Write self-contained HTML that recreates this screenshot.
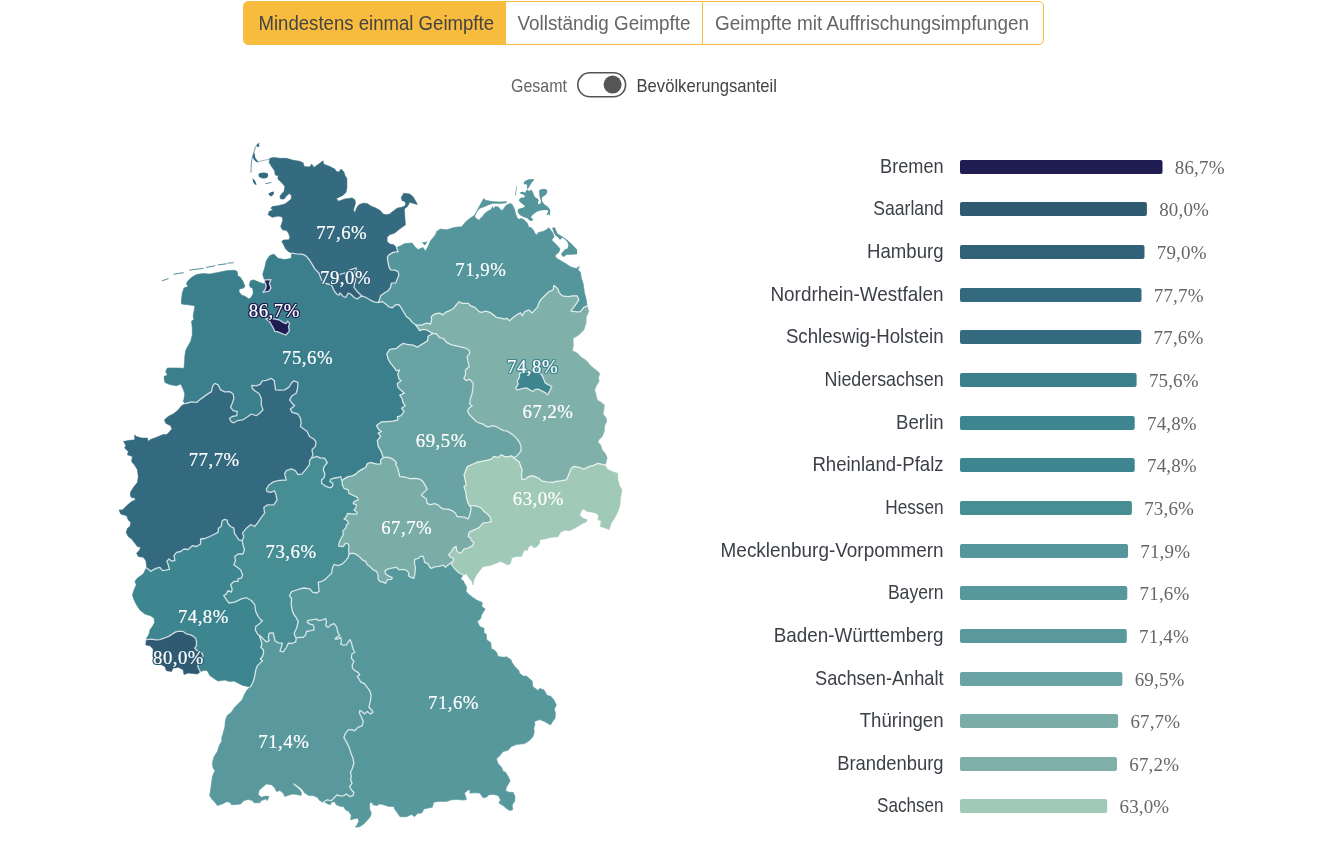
<!DOCTYPE html>
<html lang="de">
<head>
<meta charset="utf-8">
<title>Impfquote nach Bundesland</title>
<style>
html,body{margin:0;padding:0;background:#fff;}
body{width:1323px;height:850px;position:relative;overflow:hidden;font-family:"Liberation Sans",sans-serif;}
.tabs{position:absolute;left:243px;top:1px;height:44px;width:801px;box-sizing:border-box;border:1px solid #f7bb3d;border-radius:5px;background:#fff;overflow:hidden;}
.tab{position:absolute;top:-1px;height:44px;box-sizing:border-box;}
.tab.active{background:#f7bb3d;left:-1px;width:263px;}
.tab.t2{left:262px;width:197px;border-right:1px solid #f7bb3d;}
.tab.t3{left:459px;width:341px;}
svg text{font-family:"Liberation Sans",sans-serif;}
svg text.lab{font-size:20.2px;fill:#3b3f46;}
svg text.val{font-family:"Liberation Serif",serif;font-size:19px;letter-spacing:0.15px;fill:#666;}
svg text.tab{font-size:19.6px;fill:#666;}
svg text.tab.on{fill:#444;}
svg text.tg{font-size:17.8px;fill:#666;}
svg text.tg.on{fill:#444;}
.ml{position:absolute;width:80px;height:26px;line-height:26px;text-align:center;font-family:"Liberation Serif",serif;font-size:18.8px;letter-spacing:0.5px;color:#fff;-webkit-text-stroke:0.2px #fff;white-space:nowrap;}
#ov{position:absolute;left:0;top:0;}
</style>
</head>
<body>
<div class="tabs"><div class="tab active"></div><div class="tab t2"></div><div class="tab t3"></div></div>
<svg id="ov" width="1323" height="850" viewBox="0 0 1323 850">
<text class="tab on" x="258.5" y="30" textLength="235.5" lengthAdjust="spacingAndGlyphs">Mindestens einmal Geimpfte</text>
<text class="tab" x="517.5" y="30" textLength="173" lengthAdjust="spacingAndGlyphs">Vollständig Geimpfte</text>
<text class="tab" x="715" y="30" textLength="314" lengthAdjust="spacingAndGlyphs">Geimpfte mit Auffrischungsimpfungen</text>
<text class="tg" x="511" y="91.5" textLength="56" lengthAdjust="spacingAndGlyphs">Gesamt</text>
<rect x="577.8" y="72.8" width="47.8" height="24" rx="12" fill="#fff" stroke="#555" stroke-width="1.6"/>
<circle cx="612.6" cy="84.6" r="9" fill="#555"/>
<text class="tg on" x="636.5" y="91.5" textLength="140.5" lengthAdjust="spacingAndGlyphs">Bevölkerungsanteil</text>
<g id="map">
<path d="M291.5 253.1L291.3 258.3L284.6 259.6L278.0 258.3L273.8 254.1L269.6 255.8L266.3 260.8L264.6 268.2L262.7 274.1L263.8 278.2L265.0 280.7L264.3 284.0L259.7 282.4L253.8 279.9L250.5 280.7L249.3 284.9L250.5 287.4L252.7 287.9L253.3 293.2L251.3 297.3L248.9 299.0L245.5 296.5L241.4 294.9L238.9 291.5L239.4 289.0L243.0 288.2L245.0 286.5L243.0 281.5L240.5 277.4L237.7 275.7L237.2 271.6L234.7 270.2L226.4 270.7L218.1 272.4L209.8 274.1L203.1 273.6L196.5 274.6L191.5 277.4L187.3 281.5L186.5 284.0L188.2 286.5L184.0 287.9L182.3 293.2L181.5 299.8L181.5 304.0L188.2 304.8L194.8 305.7L194.0 311.5L193.1 316.5L194.0 319.8L191.5 321.1L192.3 328.1L192.3 334.8L190.7 341.4L187.3 347.2L185.7 350.6L184.8 356.4L184.5 363.0L184.0 368.3L176.5 368.0L167.4 368.0L165.7 371.6L167.4 374.9L164.0 376.6L164.9 382.4L169.9 384.6L176.5 385.8L180.7 384.1L183.2 389.1L184.8 394.1L184.0 399.1L183.2 401.5L185.7 403.5L191.5 401.9L196.5 402.4L200.6 399.1L206.4 394.9L211.4 391.6L212.8 385.8L214.8 383.3L218.1 384.9L220.6 389.9L224.7 391.9L229.7 391.6L233.1 394.1L233.9 398.2L232.2 403.2L230.6 407.4L233.1 410.7L237.2 411.5L236.7 415.7L232.2 416.5L229.4 418.5L231.4 421.8L233.9 422.8L237.2 420.7L243.0 419.8L248.0 416.5L251.3 414.0L256.3 415.7L259.7 413.2L263.0 409.9L261.3 404.9L261.3 398.2L258.8 393.2L254.7 390.7L252.2 388.2L251.7 385.3L256.3 385.8L260.5 384.1L262.2 380.8L266.3 380.3L271.3 378.3L274.3 380.8L275.0 385.8L275.5 389.9L279.6 390.2L284.6 389.9L288.8 387.4L291.3 383.3L293.7 380.8L297.9 382.4L297.6 388.2L296.2 393.2L292.1 395.7L289.6 399.9L292.1 403.2L294.6 405.7L290.4 409.0L292.1 412.4L297.9 414.0L300.4 418.2L301.2 423.2L300.4 426.5L303.7 429.0L307.1 431.5L309.5 436.5L313.7 439.0L315.9 441.5L315.4 446.4L312.0 449.8L312.9 454.8L311.5 458.1L317.0 456.4L320.4 458.1L324.5 458.1L327.0 462.2L327.4 462.5L324.1 466.7L323.3 470.0L324.9 474.1L324.1 477.5L321.6 480.0L321.6 483.3L324.9 485.8L329.9 487.9L332.4 486.6L332.9 483.3L329.9 481.6L330.7 479.1L334.9 478.0L338.2 477.5L340.7 476.6L341.9 480.8L344.9 478.3L348.2 476.6L352.4 475.8L355.7 474.1L358.2 471.6L362.3 469.1L365.7 467.5L367.3 463.7L370.7 462.5L374.0 463.3L377.3 464.2L380.7 463.9L380.7 459.7L383.2 457.7L382.3 454.7L380.7 450.6L378.2 446.4L377.3 440.6L380.7 436.4L378.2 433.1L381.5 431.5L379.0 429.8L376.5 425.6L381.5 421.8L388.2 421.5L393.1 421.1L398.1 419.8L397.3 416.8L401.1 415.7L404.0 411.5L401.5 408.2L405.1 405.7L402.8 402.4L402.3 399.0L399.8 395.2L404.5 393.2L401.5 390.7L398.1 387.4L397.3 383.6L401.1 380.7L399.0 379.1L397.8 374.1L399.5 369.9L396.5 370.8L394.0 367.4L390.7 363.3L388.2 359.1L386.8 354.1L387.3 353.1L389.8 349.4L396.4 348.4L399.8 345.6L403.1 343.4L407.2 344.4L413.1 345.1L417.2 347.2L419.7 345.6L423.9 343.1L427.7 340.6L428.0 336.4L430.5 334.8L433.3 333.4L430.5 332.3L426.4 329.8L423.0 329.4L419.7 330.6L418.0 328.1L415.5 324.8L412.2 322.3L409.7 319.0L406.4 316.5L403.9 312.3L401.4 308.2L398.9 304.5L395.6 304.8L392.3 307.8L388.9 306.8L385.6 304.0L382.3 301.5L378.1 302.7L374.0 301.8L369.8 299.8L365.7 297.3L362.3 296.2L360.7 296.5L357.3 299.0L354.0 297.3L350.7 294.0L348.2 293.2L345.7 297.3L343.2 296.5L339.9 292.9L339.1 295.2L336.6 294.0L334.1 290.7L331.6 284.9L329.9 284.5L325.8 283.5L322.4 281.5L320.8 278.2L319.1 273.2L318.1 272.2L314.8 268.9L312.3 264.7L309.8 260.5L306.5 256.4L303.2 254.4L296.5 253.9L291.5 253.1Z" fill="#3a7f8b" stroke="#3a7f8b" stroke-width="0.6" stroke-linejoin="round"/>
<path d="M269.9 158.3L273.6 157.4L279.9 158.3L286.5 158.3L293.2 160.3L299.8 161.3L303.2 162.9L304.2 166.6L309.5 166.9L311.8 164.1L313.8 167.4L318.1 164.6L323.1 160.8L323.5 164.1L329.8 166.6L334.8 169.1L336.4 171.6L338.9 171.9L341.1 169.1L343.9 171.9L345.1 175.7L346.9 178.6L346.9 188.2L345.9 192.4L343.1 195.2L336.4 198.5L338.4 201.2L344.7 199.0L352.2 197.9L355.0 199.9L355.5 203.2L353.9 208.2L353.6 210.7L355.0 212.7L356.4 208.2L358.9 204.8L363.0 203.2L367.2 203.5L371.3 206.2L376.3 208.2L380.5 210.7L383.0 214.0L386.3 214.8L389.6 214.0L393.8 210.7L397.1 208.2L401.3 207.3L404.6 206.2L405.9 204.0L404.6 201.2L402.1 200.7L401.3 197.4L403.8 193.2L409.6 194.0L412.9 196.5L415.4 200.7L417.4 204.5L412.9 203.2L409.6 202.3L407.9 205.7L406.6 207.3L404.3 209.0L404.9 218.1L405.4 224.8L399.6 229.0L394.6 233.1L389.6 234.8L387.1 237.3L387.1 241.4L389.6 243.9L393.8 244.8L396.4 247.6L398.1 251.6L393.1 252.4L388.9 254.9L387.3 257.4L388.1 262.4L388.9 266.6L390.6 269.9L394.8 270.2L398.1 271.6L398.9 274.9L397.3 279.1L395.6 282.9L391.4 283.2L390.6 287.4L388.1 290.7L384.0 293.2L380.6 295.7L379.8 299.0L378.1 302.7L374.0 301.8L369.8 299.8L365.7 297.3L362.3 296.2L359.8 294.0L356.5 290.7L354.0 287.4L354.5 284.0L355.7 279.9L354.9 276.6L354.0 272.4L356.5 269.9L356.2 267.9L352.4 269.1L348.2 270.7L344.9 273.2L340.7 274.1L338.2 276.6L334.9 278.2L332.4 280.7L331.6 284.9L329.9 284.5L325.8 283.5L322.4 281.5L320.8 278.2L319.1 273.2L318.1 272.2L314.8 268.9L312.3 264.7L309.8 260.5L306.5 256.4L303.2 254.4L296.5 253.9L291.5 253.1L288.2 251.4L285.7 248.9L284.0 245.6L281.9 241.4L283.2 240.1L289.0 239.8L289.9 237.3L288.5 233.1L286.5 230.6L282.4 229.8L280.7 226.5L281.9 223.1L282.9 219.8L281.9 216.8L278.2 216.1L272.4 217.3L268.2 214.8L269.1 211.5L273.2 209.8L270.7 208.2L272.4 206.5L278.2 205.7L284.9 204.0L288.2 201.5L291.2 199.0L291.5 195.7L289.5 193.5L287.4 194.9L284.0 199.0L280.7 199.0L279.9 196.5L281.5 194.0L284.0 191.5L284.9 186.5L281.5 182.4L277.9 179.1L278.2 175.7L275.2 174.9L274.6 170.8L271.6 166.6L269.1 162.4L269.9 158.3Z" fill="#356b80" stroke="#356b80" stroke-width="0.6" stroke-linejoin="round"/>
<path d="M254.1 152.4L255.1 155.2L255.2 157.6L256.5 159.5L258.4 161.4L257.4 162.3L255.5 161.2L254.1 159.7L253.2 158.5L252.7 157.1L253.4 154.3ZM257.1 144.6L258.8 143.5L259.4 146.1L258.1 147.2L256.9 146.3ZM258.3 174.6L259.9 172.9L264.1 172.4L267.9 173.6L268.2 176.2L266.3 178.2L262.4 178.6L259.1 176.9ZM252.4 178.6L254.6 179.9L255.8 182.4L256.6 184.9L254.9 184.6L253.3 182.4ZM268.6 193.2L271.6 191.9L274.1 191.5L273.6 194.5L271.2 196.5L269.1 195.2ZM265.3 183.6L271.2 182.1L271.2 182.7L265.4 184.2Z" fill="#356b80"/>
<path d="M396.4 247.6L400.6 245.8L404.7 243.6L412.2 243.0L414.7 246.6L418.0 249.6L423.0 247.5L425.5 251.3L428.0 246.6L430.5 240.8L434.7 235.8L437.2 231.7L435.8 232.3L440.0 229.0L446.6 229.8L454.9 227.3L461.6 226.8L465.7 221.8L470.0 218.2L474.2 215.5L477.4 210.2L480.6 203.9L483.8 198.4L485.4 200.2L492.2 201.6L499.7 202.0L506.5 201.6L506.2 202.8L499.7 203.5L494.4 203.2L491.2 203.7L488.0 205.0L484.8 206.5L480.6 207.9L478.5 209.4L476.9 211.8L475.3 214.5L474.8 216.8L476.4 218.7L479.5 220.3L480.6 218.2L482.7 216.4L483.8 214.5L485.9 212.4L488.5 210.8L491.2 209.4L492.5 206.5L493.5 208.7L495.4 206.5L498.6 207.1L500.7 210.0L502.8 210.2L504.4 207.6L506.5 205.0L510.2 203.4L512.2 204.4L514.5 209.2L515.5 213.4L517.1 217.7L518.7 219.2L521.9 218.5L525.1 220.8L527.2 223.0L528.8 227.2L531.4 227.7L533.5 230.4L535.1 233.5L536.7 235.1L538.3 232.5L543.1 231.4L546.3 229.8L548.9 227.7L551.0 230.4L553.1 233.5L554.2 236.7L551.6 239.9L554.7 243.1L557.9 246.3L560.0 248.9L559.0 252.1L555.3 255.3L555.8 257.4L557.9 259.0L564.7 263.1L571.3 267.2L576.3 268.4L579.3 266.4L578.0 269.7L580.5 272.2L581.3 278.0L583.0 283.0L584.6 293.3L586.3 299.9L587.1 305.8L583.8 307.4L580.5 311.6L577.2 311.9L571.0 311.2L572.2 309.1L575.5 304.9L578.8 299.9L577.2 295.8L573.0 295.8L568.0 296.6L562.2 295.8L558.9 292.4L558.0 289.1L553.9 285.3L553.1 290.0L548.9 291.6L544.7 295.8L540.6 299.9L538.9 303.3L537.3 307.4L534.8 309.9L532.3 312.9L528.9 309.9L524.8 311.6L522.3 315.7L520.6 312.9L516.5 314.9L513.1 317.4L509.5 320.7L506.8 318.2L504.8 319.1L500.7 318.2L496.5 317.4L493.2 314.6L489.9 312.4L485.7 311.2L481.5 312.4L479.1 311.6L474.9 307.4L470.7 305.8L468.2 303.3L462.4 303.3L458.8 301.8L456.3 304.8L453.8 308.2L449.6 310.7L445.5 312.3L443.0 314.8L439.7 313.1L434.7 314.0L431.3 316.5L431.7 319.8L430.5 324.0L426.4 323.1L421.4 325.1L415.5 324.8L412.2 322.3L409.7 319.0L406.4 316.5L403.9 312.3L401.4 308.2L398.9 304.5L395.6 304.8L392.3 307.8L388.9 306.8L385.6 304.0L382.3 301.5L378.1 302.7L379.8 299.0L380.6 295.7L384.0 293.2L388.1 290.7L390.6 287.4L391.4 283.2L395.6 282.9L397.3 279.1L398.9 274.9L398.1 271.6L394.8 270.2L390.6 269.9L388.9 266.6L388.1 262.4L387.3 257.4L388.9 254.9L393.1 252.4L398.1 251.6L396.4 247.6Z" fill="#54969b" stroke="#54969b" stroke-width="0.6" stroke-linejoin="round"/>
<path d="M519.8 192.2L523.0 191.7L525.1 192.8L526.1 190.7L527.7 189.6L529.3 191.2L530.9 189.6L532.5 191.2L533.5 193.8L534.6 196.5L536.2 198.1L537.8 198.6L538.8 200.7L537.8 202.3L538.3 203.9L540.4 203.7L541.0 201.2L540.1 198.6L539.4 195.4L539.1 191.2L539.9 189.6L543.1 188.9L545.7 188.9L547.3 190.7L547.1 192.8L545.7 194.9L543.1 196.5L541.8 198.1L542.0 200.7L543.1 202.8L545.2 205.0L547.8 206.5L550.0 209.7L550.3 212.4L549.4 216.6L548.9 214.0L547.8 215.0L546.3 214.5L547.8 212.4L548.4 210.8L546.3 210.0L542.0 210.2L537.8 211.3L535.1 212.9L532.5 215.0L530.9 217.1L532.5 218.7L533.3 220.3L530.4 221.1L528.8 219.8L527.2 218.2L525.1 217.4L522.4 216.6L519.8 215.0L517.9 212.4L517.7 210.2L518.7 208.7L521.9 208.1L524.0 207.3L524.9 206.0L523.0 204.4L520.8 202.8L518.9 200.7L519.6 198.6L521.9 197.3L523.5 197.7L525.1 195.9L523.0 194.6L520.8 193.8ZM523.5 182.7L525.6 180.6L529.3 179.3L533.5 179.0L534.1 180.1L532.0 182.2L530.4 184.8L528.8 187.5L527.7 188.9L526.7 188.0L527.2 185.9L526.1 183.8L524.5 184.8ZM516.4 186.4L517.0 186.6L515.8 195.4L515.1 195.2ZM552.1 227.7L554.7 227.2L556.3 230.4L557.4 233.5L561.1 235.7L564.3 237.8L567.4 239.9L571.7 244.1L577.0 249.4L577.2 254.2L571.7 254.7L566.4 254.7L564.3 256.8L562.1 256.3L561.1 253.7L563.2 251.6L564.8 249.4L567.4 248.4L568.5 245.7L567.4 242.0L564.3 238.8L562.1 237.8L560.0 239.9L558.4 237.8L555.8 235.7L553.7 232.5ZM421.7 242.6L427.5 241.5L425.0 245.6Z" fill="#54969b"/>
<path d="M415.5 324.8L421.4 325.1L426.4 323.1L430.5 324.0L431.7 319.8L431.3 316.5L434.7 314.0L439.7 313.1L443.0 314.8L445.5 312.3L449.6 310.7L453.8 308.2L456.3 304.8L458.8 301.8L462.4 303.3L468.2 303.3L470.7 305.8L474.9 307.4L479.1 311.6L481.5 312.4L485.7 311.2L489.9 312.4L493.2 314.6L496.5 317.4L500.7 318.2L504.8 319.1L506.8 318.2L509.5 320.7L513.1 317.4L516.5 314.9L520.6 312.9L522.3 315.7L524.8 311.6L528.9 309.9L532.3 312.9L534.8 309.9L537.3 307.4L538.9 303.3L540.6 299.9L544.7 295.8L548.9 291.6L553.1 290.0L553.9 285.3L558.0 289.1L558.9 292.4L562.2 295.8L568.0 296.6L573.0 295.8L577.2 295.8L578.8 299.9L575.5 304.9L572.2 309.1L571.0 311.2L577.2 311.9L580.5 311.6L583.8 307.4L587.1 305.8L588.8 311.6L586.3 316.6L586.0 323.2L583.8 329.9L578.8 334.9L573.0 338.5L573.3 345.7L572.2 350.7L577.2 353.1L581.3 357.3L586.3 360.6L590.5 365.6L594.6 368.9L598.8 372.3L599.7 374.1L598.3 378.3L599.3 380.8L596.3 385.8L594.7 389.9L596.0 394.9L597.2 399.9L601.3 402.4L604.3 404.9L603.8 409.9L603.0 414.0L606.3 418.2L606.6 421.5L604.6 425.7L604.3 431.5L602.2 436.5L598.8 439.8L598.0 442.3L600.5 444.8L602.2 449.8L605.5 453.9L607.1 458.1L606.3 461.7L604.9 465.0L601.2 464.1L597.9 463.3L593.7 465.3L588.8 466.6L583.8 469.1L579.6 467.5L573.8 466.3L571.3 468.3L569.6 472.4L568.0 476.6L566.3 479.9L560.5 480.8L556.3 481.3L553.0 482.4L546.4 481.9L541.4 480.8L538.9 478.3L533.1 475.8L528.9 476.3L525.6 479.1L522.2 479.6L521.4 474.9L522.2 470.0L520.6 465.8L518.9 461.6L516.4 460.0L513.4 457.5L516.2 456.4L518.7 453.9L521.2 450.6L520.9 446.4L519.5 442.3L517.0 438.9L513.7 435.6L510.4 433.1L507.1 431.1L503.7 430.6L500.4 429.0L496.2 426.5L492.1 425.6L489.6 426.8L486.3 426.5L482.9 424.0L479.6 423.1L476.3 421.5L473.0 418.2L469.6 414.8L467.6 411.5L468.8 408.2L472.1 405.7L469.6 404.0L470.5 398.2L472.1 393.2L473.0 388.2L473.0 383.2L469.6 379.1L466.3 380.7L463.8 378.2L465.5 374.9L465.5 369.9L469.3 366.6L468.0 361.6L467.1 356.6L469.9 353.1L469.1 350.2L465.8 348.2L462.4 347.3L457.4 346.2L451.6 344.8L446.6 342.3L443.3 338.5L439.1 337.3L436.7 334.0L433.3 333.4L430.5 332.3L426.4 329.8L423.0 329.4L419.7 330.6L418.0 328.1L415.5 324.8Z" fill="#7fb0aa" stroke="#7fb0aa" stroke-width="0.6" stroke-linejoin="round"/>
<path d="M433.3 333.4L430.5 334.8L428.0 336.4L427.7 340.6L423.9 343.1L419.7 345.6L417.2 347.2L413.1 345.1L407.2 344.4L403.1 343.4L399.8 345.6L396.4 348.4L389.8 349.4L387.3 353.1L386.8 354.1L388.2 359.1L390.7 363.3L394.0 367.4L396.5 370.8L399.5 369.9L397.8 374.1L399.0 379.1L401.1 380.7L397.3 383.6L398.1 387.4L401.5 390.7L404.5 393.2L399.8 395.2L402.3 399.0L402.8 402.4L405.1 405.7L401.5 408.2L404.0 411.5L401.1 415.7L397.3 416.8L398.1 419.8L393.1 421.1L388.2 421.5L381.5 421.8L376.5 425.6L379.0 429.8L381.5 431.5L378.2 433.1L380.7 436.4L377.3 440.6L378.2 446.4L380.7 450.6L382.3 454.7L383.2 457.7L387.3 457.2L391.5 458.4L394.8 460.6L396.5 463.1L395.6 464.2L397.8 468.3L398.9 473.3L399.8 476.6L404.7 477.0L409.7 478.6L414.7 478.3L419.7 479.1L423.0 481.6L425.5 485.8L427.2 489.1L424.7 491.6L421.4 494.9L423.0 496.6L426.4 499.1L427.2 503.6L430.5 504.6L434.7 503.6L438.0 504.9L440.5 507.4L443.8 509.1L448.0 509.1L452.1 510.7L455.5 513.2L457.1 516.5L461.3 516.9L465.4 517.4L467.9 519.0L469.6 515.7L470.4 511.5L471.3 508.2L469.5 505.7L469.0 504.9L467.4 501.5L466.5 497.4L465.7 491.6L464.0 486.6L466.2 484.9L465.2 479.9L464.0 474.9L465.7 470.8L467.4 466.6L470.7 465.0L476.5 462.5L481.5 461.3L486.5 460.3L491.5 459.1L494.0 456.3L498.1 457.5L501.5 454.7L504.8 456.7L508.1 457.0L511.4 455.8L513.4 457.5L516.2 456.4L518.7 453.9L521.2 450.6L520.9 446.4L519.5 442.3L517.0 438.9L513.7 435.6L510.4 433.1L507.1 431.1L503.7 430.6L500.4 429.0L496.2 426.5L492.1 425.6L489.6 426.8L486.3 426.5L482.9 424.0L479.6 423.1L476.3 421.5L473.0 418.2L469.6 414.8L467.6 411.5L468.8 408.2L472.1 405.7L469.6 404.0L470.5 398.2L472.1 393.2L473.0 388.2L473.0 383.2L469.6 379.1L466.3 380.7L463.8 378.2L465.5 374.9L465.5 369.9L469.3 366.6L468.0 361.6L467.1 356.6L469.9 353.1L469.1 350.2L465.8 348.2L462.4 347.3L457.4 346.2L451.6 344.8L446.6 342.3L443.3 338.5L439.1 337.3L436.7 334.0L433.3 333.4Z" fill="#6aa3a3" stroke="#6aa3a3" stroke-width="0.6" stroke-linejoin="round"/>
<path d="M513.4 457.5L511.4 455.8L508.1 457.0L504.8 456.7L501.5 454.7L498.1 457.5L494.0 456.3L491.5 459.1L486.5 460.3L481.5 461.3L476.5 462.5L470.7 465.0L467.4 466.6L465.7 470.8L464.0 474.9L465.2 479.9L466.2 484.9L464.0 486.6L465.7 491.6L466.5 497.4L467.4 501.5L469.0 504.9L469.5 505.7L473.2 505.7L478.2 506.5L481.5 508.2L484.0 511.5L487.3 514.0L489.8 516.5L491.5 521.5L488.2 522.3L483.2 522.8L480.7 525.7L478.2 528.2L474.0 529.8L469.0 532.3L468.2 536.5L470.7 538.1L471.5 540.6L474.0 542.3L472.4 545.6L468.2 548.1L464.0 548.9L462.4 551.8L459.1 553.1L456.6 550.6L456.2 546.4L453.2 548.1L451.6 551.4L448.6 554.8L450.7 557.3L453.6 558.1L453.2 561.4L450.7 563.1L454.1 568.1L458.2 572.2L462.9 575.0L466.5 573.9L469.0 578.0L471.9 581.4L472.9 585.0L474.0 579.7L476.5 574.7L479.8 570.6L483.2 566.4L489.8 565.6L496.5 563.1L500.6 561.4L504.8 563.4L508.1 565.1L510.6 563.1L511.8 557.8L516.4 556.4L521.4 556.4L523.1 552.8L524.7 549.8L527.2 550.6L528.4 547.3L531.4 545.1L533.9 547.8L537.2 546.4L539.7 543.1L539.7 539.8L544.7 539.0L551.3 537.3L558.0 536.8L560.5 532.3L564.6 530.2L569.6 530.7L574.6 528.2L578.8 525.7L582.9 523.2L586.6 521.8L587.1 519.8L582.9 518.2L579.6 515.2L581.3 510.7L583.8 509.0L587.1 511.5L591.3 511.9L596.2 513.2L598.7 515.7L597.9 519.8L601.2 520.7L600.4 526.5L604.6 527.8L609.2 529.5L611.2 523.2L614.5 518.2L617.9 511.5L619.9 504.9L620.4 498.2L622.0 489.9L619.5 485.8L617.9 479.9L617.5 473.3L612.0 471.6L607.1 469.1L604.9 465.0L601.2 464.1L597.9 463.3L593.7 465.3L588.8 466.6L583.8 469.1L579.6 467.5L573.8 466.3L571.3 468.3L569.6 472.4L568.0 476.6L566.3 479.9L560.5 480.8L556.3 481.3L553.0 482.4L546.4 481.9L541.4 480.8L538.9 478.3L533.1 475.8L528.9 476.3L525.6 479.1L522.2 479.6L521.4 474.9L522.2 470.0L520.6 465.8L518.9 461.6L516.4 460.0L513.4 457.5Z" fill="#a0c9b7" stroke="#a0c9b7" stroke-width="0.6" stroke-linejoin="round"/>
<path d="M383.2 457.7L387.3 457.2L391.5 458.4L394.8 460.6L396.5 463.1L395.6 464.2L397.8 468.3L398.9 473.3L399.8 476.6L404.7 477.0L409.7 478.6L414.7 478.3L419.7 479.1L423.0 481.6L425.5 485.8L427.2 489.1L424.7 491.6L421.4 494.9L423.0 496.6L426.4 499.1L427.2 503.6L430.5 504.6L434.7 503.6L438.0 504.9L440.5 507.4L443.8 509.1L448.0 509.1L452.1 510.7L455.5 513.2L457.1 516.5L461.3 516.9L465.4 517.4L467.9 519.0L469.6 515.7L470.4 511.5L471.3 508.2L469.5 505.7L473.2 505.7L478.2 506.5L481.5 508.2L484.0 511.5L487.3 514.0L489.8 516.5L491.5 521.5L488.2 522.3L483.2 522.8L480.7 525.7L478.2 528.2L474.0 529.8L469.0 532.3L468.2 536.5L470.7 538.1L471.5 540.6L474.0 542.3L472.4 545.6L468.2 548.1L464.0 548.9L462.4 551.8L459.1 553.1L456.6 550.6L456.2 546.4L453.2 548.1L451.6 551.4L448.6 554.8L450.7 557.3L453.6 558.1L453.2 561.4L450.7 563.1L449.6 563.9L447.1 565.6L445.5 567.3L443.0 565.1L438.8 566.4L434.7 566.8L431.3 568.4L429.7 567.3L428.0 563.9L424.7 562.3L423.9 558.9L423.0 556.1L420.5 556.4L418.9 558.1L414.7 559.4L414.4 563.1L415.5 568.1L414.7 574.7L413.9 578.4L410.6 577.2L408.4 575.6L408.9 573.1L406.4 570.1L403.1 569.4L398.9 569.8L396.4 567.3L393.1 567.8L388.1 568.9L384.8 571.1L385.6 573.9L388.1 575.6L392.3 577.7L391.4 579.4L387.3 579.7L385.6 583.4L383.1 582.2L379.8 581.4L378.1 578.9L378.1 574.7L376.5 571.4L373.1 569.8L369.8 566.4L367.3 564.8L365.7 561.4L362.3 559.8L359.0 556.4L355.7 554.0L352.4 553.1L349.0 554.0L348.5 550.6L349.0 546.5L348.2 544.0L345.7 543.1L343.2 546.5L338.6 546.1L339.1 543.1L340.7 539.0L343.2 534.8L342.9 530.7L345.7 528.2L346.5 524.9L348.5 523.2L347.4 520.7L344.0 519.0L346.5 516.5L347.4 513.5L352.4 514.0L356.5 514.0L357.3 512.4L354.0 509.9L355.7 508.2L356.5 504.9L353.2 503.6L354.0 501.6L358.2 499.9L357.3 497.4L353.2 495.3L349.0 493.3L348.2 489.9L344.0 488.3L342.4 484.9L341.9 480.8L344.9 478.3L348.2 476.6L352.4 475.8L355.7 474.1L358.2 471.6L362.3 469.1L365.7 467.5L367.3 463.7L370.7 462.5L374.0 463.3L377.3 464.2L380.7 463.9L380.7 459.7L383.2 457.7Z" fill="#7aada8" stroke="#7aada8" stroke-width="0.6" stroke-linejoin="round"/>
<path d="M311.5 458.1L317.0 456.4L320.4 458.1L324.5 458.1L327.0 462.2L327.4 462.5L324.1 466.7L323.3 470.0L324.9 474.1L324.1 477.5L321.6 480.0L321.6 483.3L324.9 485.8L329.9 487.9L332.4 486.6L332.9 483.3L329.9 481.6L330.7 479.1L334.9 478.0L338.2 477.5L340.7 476.6L341.9 480.8L342.4 484.9L344.0 488.3L348.2 489.9L349.0 493.3L353.2 495.3L357.3 497.4L358.2 499.9L354.0 501.6L353.2 503.6L356.5 504.9L355.7 508.2L354.0 509.9L357.3 512.4L356.5 514.0L352.4 514.0L347.4 513.5L346.5 516.5L344.0 519.0L347.4 520.7L348.5 523.2L346.5 524.9L345.7 528.2L342.9 530.7L343.2 534.8L340.7 539.0L339.1 543.1L338.6 546.1L343.2 546.5L345.7 543.1L348.2 544.0L349.0 546.5L348.5 550.6L349.0 554.0L348.2 557.3L345.7 560.6L342.4 563.9L338.2 565.6L334.1 564.4L332.4 568.1L331.6 573.1L328.2 576.4L324.9 579.7L321.6 581.4L318.3 582.2L318.6 586.4L319.1 591.4L316.6 593.0L312.4 592.2L310.0 588.9L304.1 588.0L300.0 588.9L295.0 590.5L291.6 591.6L289.4 595.8L291.6 598.3L291.2 604.9L292.4 610.8L294.1 614.9L296.6 618.2L298.2 621.6L297.4 624.9L296.6 628.2L294.1 633.2L294.9 635.7L296.2 638.2L295.7 641.9L291.6 643.5L288.2 643.2L286.9 646.5L283.3 651.8L279.9 651.2L281.6 646.5L282.4 643.2L278.3 642.9L274.9 640.7L274.1 636.5L273.3 632.9L269.1 633.2L268.3 637.4L269.1 640.7L266.6 641.9L263.3 639.0L260.0 635.7L259.1 635.2L257.5 634.0L255.3 629.9L255.8 626.6L259.1 624.1L262.5 620.7L260.8 619.9L258.3 616.6L255.8 611.6L255.0 606.6L254.7 604.7L251.3 600.5L246.4 597.7L241.4 598.9L234.7 602.2L228.9 603.0L226.4 599.7L223.6 595.5L226.4 593.9L228.1 590.6L231.4 592.2L232.2 588.9L230.6 584.7L233.9 581.4L238.0 581.4L238.0 578.9L241.4 578.1L242.7 574.8L240.5 569.8L237.2 567.3L233.9 564.8L235.5 560.6L234.7 556.5L238.0 554.0L243.0 554.0L244.4 549.8L243.0 544.8L242.2 540.7L243.9 536.5L242.5 533.2L246.4 528.2L251.0 524.5L254.7 526.5L258.0 522.4L261.3 517.4L264.6 513.2L263.8 507.4L267.1 504.9L273.8 504.9L277.1 499.9L276.0 494.9L274.6 490.8L270.5 492.4L267.1 491.6L266.3 489.1L268.8 485.0L273.8 481.6L279.6 480.3L286.3 480.0L284.6 473.9L286.3 470.6L291.3 468.9L295.4 470.6L297.9 474.7L302.1 473.9L306.2 468.9L309.5 464.7L309.5 460.6L311.5 458.1Z" fill="#468d94" stroke="#468d94" stroke-width="0.6" stroke-linejoin="round"/>
<path d="M185.7 403.5L191.5 401.9L196.5 402.4L200.6 399.1L206.4 394.9L211.4 391.6L212.8 385.8L214.8 383.3L218.1 384.9L220.6 389.9L224.7 391.9L229.7 391.6L233.1 394.1L233.9 398.2L232.2 403.2L230.6 407.4L233.1 410.7L237.2 411.5L236.7 415.7L232.2 416.5L229.4 418.5L231.4 421.8L233.9 422.8L237.2 420.7L243.0 419.8L248.0 416.5L251.3 414.0L256.3 415.7L259.7 413.2L263.0 409.9L261.3 404.9L261.3 398.2L258.8 393.2L254.7 390.7L252.2 388.2L251.7 385.3L256.3 385.8L260.5 384.1L262.2 380.8L266.3 380.3L271.3 378.3L274.3 380.8L275.0 385.8L275.5 389.9L279.6 390.2L284.6 389.9L288.8 387.4L291.3 383.3L293.7 380.8L297.9 382.4L297.6 388.2L296.2 393.2L292.1 395.7L289.6 399.9L292.1 403.2L294.6 405.7L290.4 409.0L292.1 412.4L297.9 414.0L300.4 418.2L301.2 423.2L300.4 426.5L303.7 429.0L307.1 431.5L309.5 436.5L313.7 439.0L315.9 441.5L315.4 446.4L312.0 449.8L312.9 454.8L311.5 458.1L309.5 460.6L309.5 464.7L306.2 468.9L302.1 473.9L297.9 474.7L295.4 470.6L291.3 468.9L286.3 470.6L284.6 473.9L286.3 480.0L279.6 480.3L273.8 481.6L268.8 485.0L266.3 489.1L267.1 491.6L270.5 492.4L274.6 490.8L276.0 494.9L277.1 499.9L273.8 504.9L267.1 504.9L263.8 507.4L264.6 513.2L261.3 517.4L258.0 522.4L254.7 526.5L251.0 524.5L246.4 528.2L242.5 533.2L243.9 536.5L242.2 540.7L238.9 539.8L236.7 536.5L234.4 533.2L233.9 528.2L230.6 526.5L227.7 523.2L227.2 520.2L224.4 519.4L222.2 520.7L221.1 526.5L218.4 528.2L218.1 532.4L214.8 534.0L209.8 536.5L204.8 538.5L200.6 539.0L200.6 544.0L196.5 546.5L192.3 545.7L188.2 549.5L184.0 549.0L180.7 551.5L176.5 552.3L174.0 555.6L174.9 560.6L171.5 561.1L169.0 559.0L166.9 561.1L168.2 564.8L169.5 569.4L165.7 570.1L162.4 570.6L159.9 567.3L156.6 568.1L153.2 569.8L150.7 571.4L149.1 569.8L146.3 567.8L146.6 565.6L145.8 560.6L143.3 557.3L138.3 556.5L136.6 553.1L139.1 550.7L140.8 547.3L137.4 546.5L134.9 543.2L131.6 539.0L128.3 536.5L126.1 532.4L127.5 528.2L130.0 526.5L130.8 522.4L128.3 519.9L126.6 515.7L120.8 514.1L119.1 509.9L122.5 509.9L126.6 505.8L131.6 501.6L135.3 499.9L134.9 497.9L131.3 497.4L130.3 494.9L130.8 491.6L134.1 486.6L137.4 482.5L138.3 476.7L137.4 469.7L134.9 465.6L131.6 461.4L132.4 456.4L127.5 454.8L128.3 451.4L124.6 448.1L125.8 445.6L123.6 441.5L128.3 440.6L134.9 439.8L134.6 435.1L136.6 436.5L141.6 438.1L147.4 438.1L148.2 441.5L149.9 439.8L156.6 437.3L163.2 434.5L166.5 434.8L169.0 432.3L171.9 429.0L170.7 425.7L165.7 423.2L164.5 419.8L168.2 416.5L173.2 414.0L178.2 409.9L181.5 405.7L185.7 403.5Z" fill="#346a7f" stroke="#346a7f" stroke-width="0.6" stroke-linejoin="round"/>
<path d="M146.3 567.8L149.1 569.8L150.7 571.4L153.2 569.8L156.6 568.1L159.9 567.3L162.4 570.6L165.7 570.1L169.5 569.4L168.2 564.8L166.9 561.1L169.0 559.0L171.5 561.1L174.9 560.6L174.0 555.6L176.5 552.3L180.7 551.5L184.0 549.0L188.2 549.5L192.3 545.7L196.5 546.5L200.6 544.0L200.6 539.0L204.8 538.5L209.8 536.5L214.8 534.0L218.1 532.4L218.4 528.2L221.1 526.5L222.2 520.7L224.4 519.4L227.2 520.2L227.7 523.2L230.6 526.5L233.9 528.2L234.4 533.2L236.7 536.5L238.9 539.8L242.2 540.7L243.0 544.8L244.4 549.8L243.0 554.0L238.0 554.0L234.7 556.5L235.5 560.6L233.9 564.8L237.2 567.3L240.5 569.8L242.7 574.8L241.4 578.1L238.0 578.9L238.0 581.4L233.9 581.4L230.6 584.7L232.2 588.9L231.4 592.2L228.1 590.6L226.4 593.9L223.6 595.5L226.4 599.7L228.9 603.0L234.7 602.2L241.4 598.9L246.4 597.7L251.3 600.5L254.7 604.7L255.0 606.6L255.8 611.6L258.3 616.6L260.8 619.9L262.5 620.7L259.1 624.1L255.8 626.6L255.3 629.9L257.5 634.0L259.1 635.2L260.8 639.9L262.0 644.0L260.8 647.3L263.3 649.8L263.6 653.2L262.5 656.5L260.3 659.0L262.5 660.7L260.0 663.1L257.5 665.6L255.8 669.8L254.7 676.5L253.0 682.3L250.5 686.8L248.0 686.4L243.0 685.6L238.9 683.5L233.9 681.1L229.7 681.5L224.7 680.1L218.1 681.1L214.8 679.0L209.8 675.6L207.3 670.7L204.0 670.2L200.3 671.8L199.8 670.7L198.1 667.3L197.3 663.2L201.1 659.8L203.1 655.7L201.5 652.4L197.3 650.7L194.8 648.2L196.5 645.7L196.5 641.5L195.6 638.2L193.1 636.2L189.8 634.6L185.7 633.6L183.2 631.6L179.8 631.2L175.7 631.9L171.5 634.6L168.2 636.6L164.0 638.2L159.9 639.6L155.7 639.9L151.6 639.1L146.3 639.6L146.6 638.2L149.1 634.1L149.9 629.9L152.4 626.6L154.6 622.4L154.1 618.3L150.7 615.8L144.9 614.1L139.9 610.0L136.6 605.0L134.1 600.0L132.4 595.0L134.1 589.7L136.3 584.7L134.9 581.4L137.4 578.1L143.3 573.9L146.3 567.8Z" fill="#3d858f" stroke="#3d858f" stroke-width="0.6" stroke-linejoin="round"/>
<path d="M250.5 686.8L253.0 682.3L254.7 676.5L255.8 669.8L257.5 665.6L260.0 663.1L262.5 660.7L260.3 659.0L262.5 656.5L263.6 653.2L263.3 649.8L260.8 647.3L262.0 644.0L260.8 639.9L259.1 635.2L260.0 635.7L263.3 639.0L266.6 641.9L269.1 640.7L268.3 637.4L269.1 633.2L273.3 632.9L274.1 636.5L274.9 640.7L278.3 642.9L282.4 643.2L281.6 646.5L279.9 651.2L283.3 651.8L286.9 646.5L288.2 643.2L291.6 643.5L295.7 641.9L296.2 638.2L299.1 637.4L303.2 637.4L305.7 634.9L306.5 631.5L310.7 630.7L314.0 629.9L314.0 627.4L313.2 624.9L309.9 624.1L307.4 622.4L307.4 620.7L311.5 619.9L316.5 619.1L319.0 620.7L322.3 619.9L325.7 618.6L326.5 621.6L325.7 625.7L328.2 627.4L330.7 624.9L334.0 623.6L336.5 626.6L337.3 629.9L338.1 633.2L339.8 635.7L336.5 637.4L335.1 639.0L338.1 639.0L340.6 637.4L341.5 640.7L340.6 644.0L343.1 645.2L346.4 644.9L348.1 642.4L349.8 639.5L351.4 642.4L352.3 646.5L353.4 649.8L354.8 652.3L351.8 654.0L351.4 658.2L353.9 661.5L352.3 664.8L352.3 668.1L354.8 670.6L358.1 672.3L359.8 674.8L357.3 676.4L358.9 678.9L360.6 681.8L364.7 683.9L367.2 687.3L369.7 690.6L371.1 694.7L370.6 699.7L369.7 703.9L368.9 707.2L371.4 709.7L373.1 712.2L370.6 713.9L367.2 711.4L364.7 713.9L361.7 711.4L359.8 710.5L359.4 713.0L361.4 717.2L363.3 721.6L362.1 725.8L358.0 727.4L354.6 730.8L352.1 729.6L348.0 729.9L345.5 733.3L343.8 737.4L346.3 741.6L348.8 746.6L351.0 753.2L353.0 758.2L353.8 763.2L352.1 769.0L350.5 772.3L351.3 776.5L350.5 779.8L352.1 783.2L349.6 786.5L351.3 789.8L353.8 792.3L353.0 795.6L349.6 796.5L346.3 794.0L343.8 795.6L340.5 796.1L337.2 794.8L334.7 797.3L331.3 800.6L327.2 799.8L323.9 801.8L323.0 802.3L319.7 800.6L317.2 797.3L313.1 795.6L308.9 795.6L304.7 793.1L303.1 790.6L299.8 787.3L293.9 783.2L292.3 783.5L294.8 785.7L298.9 789.0L301.4 792.3L301.1 795.6L298.1 794.8L293.1 794.0L289.8 794.8L284.8 796.5L283.1 793.1L279.8 790.6L276.5 791.5L274.8 788.1L271.5 784.8L266.5 784.0L262.3 787.3L259.0 790.6L258.2 794.8L261.5 797.3L265.7 796.1L269.0 796.5L267.3 800.6L265.7 799.0L261.5 800.6L259.8 802.8L254.0 802.8L252.4 800.6L248.2 799.5L244.0 800.6L240.7 803.9L236.6 804.4L231.6 804.8L229.9 802.3L226.6 801.8L222.4 803.9L217.4 805.6L214.9 802.3L212.4 799.8L209.6 795.6L210.3 792.3L210.8 788.1L211.6 782.3L212.4 776.5L214.9 770.7L212.9 767.4L212.4 762.4L214.1 756.5L217.4 751.6L219.1 745.7L221.9 740.8L221.6 738.3L223.3 732.4L224.9 726.6L225.3 720.8L227.2 715.5L231.4 712.2L234.7 707.2L238.0 703.9L242.2 699.8L244.7 693.9L247.2 689.8L250.5 686.8Z" fill="#59999e" stroke="#59999e" stroke-width="0.6" stroke-linejoin="round"/>
<path d="M349.0 554.0L348.2 557.3L345.7 560.6L342.4 563.9L338.2 565.6L334.1 564.4L332.4 568.1L331.6 573.1L328.2 576.4L324.9 579.7L321.6 581.4L318.3 582.2L318.6 586.4L319.1 591.4L316.6 593.0L312.4 592.2L310.0 588.9L304.1 588.0L300.0 588.9L295.0 590.5L291.6 591.6L289.4 595.8L291.6 598.3L291.2 604.9L292.4 610.8L294.1 614.9L296.6 618.2L298.2 621.6L297.4 624.9L296.6 628.2L294.1 633.2L294.9 635.7L296.2 638.2L299.1 637.4L303.2 637.4L305.7 634.9L306.5 631.5L310.7 630.7L314.0 629.9L314.0 627.4L313.2 624.9L309.9 624.1L307.4 622.4L307.4 620.7L311.5 619.9L316.5 619.1L319.0 620.7L322.3 619.9L325.7 618.6L326.5 621.6L325.7 625.7L328.2 627.4L330.7 624.9L334.0 623.6L336.5 626.6L337.3 629.9L338.1 633.2L339.8 635.7L336.5 637.4L335.1 639.0L338.1 639.0L340.6 637.4L341.5 640.7L340.6 644.0L343.1 645.2L346.4 644.9L348.1 642.4L349.8 639.5L351.4 642.4L352.3 646.5L353.4 649.8L354.8 652.3L351.8 654.0L351.4 658.2L353.9 661.5L352.3 664.8L352.3 668.1L354.8 670.6L358.1 672.3L359.8 674.8L357.3 676.4L358.9 678.9L360.6 681.8L364.7 683.9L367.2 687.3L369.7 690.6L371.1 694.7L370.6 699.7L369.7 703.9L368.9 707.2L371.4 709.7L373.1 712.2L370.6 713.9L367.2 711.4L364.7 713.9L361.7 711.4L359.8 710.5L359.4 713.0L361.4 717.2L363.3 721.6L362.1 725.8L358.0 727.4L354.6 730.8L352.1 729.6L348.0 729.9L345.5 733.3L343.8 737.4L346.3 741.6L348.8 746.6L351.0 753.2L353.0 758.2L353.8 763.2L352.1 769.0L350.5 772.3L351.3 776.5L350.5 779.8L352.1 783.2L349.6 786.5L351.3 789.8L353.8 792.3L353.0 795.6L349.6 796.5L346.3 794.0L343.8 795.6L340.5 796.1L337.2 794.8L334.7 797.3L331.3 800.6L327.2 799.8L323.9 801.8L328.0 803.9L330.5 804.8L331.3 802.3L334.7 801.8L336.3 804.8L340.5 806.4L343.8 806.8L345.5 809.8L348.8 811.4L351.3 815.6L350.5 819.7L353.8 818.9L358.0 818.1L358.8 821.4L357.1 824.7L355.5 827.2L359.6 826.7L363.8 823.9L367.1 820.6L370.4 816.4L371.3 813.1L369.6 808.9L369.6 803.1L372.1 802.3L372.9 804.8L377.1 805.6L379.6 803.9L383.7 804.8L388.7 806.4L393.7 806.4L395.0 809.8L397.5 813.1L400.0 816.7L406.6 816.7L411.6 814.4L414.6 816.7L417.4 813.4L421.6 813.1L424.1 808.9L428.2 808.1L432.4 807.3L433.6 802.3L438.2 801.4L446.5 801.4L451.5 799.8L458.2 799.5L463.2 800.1L466.5 799.5L464.5 793.1L468.2 790.1L470.2 789.8L469.8 793.1L474.8 792.8L479.8 793.1L483.1 797.8L486.4 797.3L488.9 794.8L493.9 794.5L498.1 795.6L500.6 799.8L498.9 803.1L503.1 805.6L506.4 808.4L509.7 810.6L512.7 809.8L512.2 804.8L514.7 801.4L515.0 796.5L513.1 792.3L509.7 792.3L505.6 791.1L506.4 787.3L508.9 783.2L510.1 780.7L508.1 776.5L505.6 772.3L503.1 771.2L501.7 767.4L498.1 763.5L496.4 759.0L499.8 755.7L503.1 751.6L508.1 750.2L511.4 746.6L516.4 744.6L524.7 743.6L529.7 740.3L533.0 736.6L534.3 731.6L533.8 728.3L535.0 724.1L534.3 721.6L539.7 719.6L544.6 721.6L550.5 725.0L552.6 721.6L555.0 718.3L555.5 713.3L554.3 709.2L556.3 705.0L553.8 699.7L550.5 696.1L547.2 695.6L543.9 689.8L539.7 688.4L538.0 690.6L532.7 686.4L532.2 681.1L526.4 676.1L523.1 676.1L519.4 673.1L518.9 670.6L514.8 666.5L511.8 662.3L511.1 659.8L506.4 656.8L504.0 657.3L498.1 656.5L496.5 652.3L494.0 649.8L491.5 649.0L490.7 642.4L486.8 639.9L486.2 634.0L484.0 632.9L484.0 628.2L479.8 626.6L477.3 621.6L480.7 618.6L481.5 614.9L485.2 609.1L481.8 606.6L482.3 602.4L476.5 600.0L472.9 597.5L469.0 594.6L466.2 591.6L466.5 586.7L464.0 582.5L464.0 581.4L460.7 578.9L462.9 575.0L458.2 572.2L454.1 568.1L450.7 563.1L449.6 563.9L447.1 565.6L445.5 567.3L443.0 565.1L438.8 566.4L434.7 566.8L431.3 568.4L429.7 567.3L428.0 563.9L424.7 562.3L423.9 558.9L423.0 556.1L420.5 556.4L418.9 558.1L414.7 559.4L414.4 563.1L415.5 568.1L414.7 574.7L413.9 578.4L410.6 577.2L408.4 575.6L408.9 573.1L406.4 570.1L403.1 569.4L398.9 569.8L396.4 567.3L393.1 567.8L388.1 568.9L384.8 571.1L385.6 573.9L388.1 575.6L392.3 577.7L391.4 579.4L387.3 579.7L385.6 583.4L383.1 582.2L379.8 581.4L378.1 578.9L378.1 574.7L376.5 571.4L373.1 569.8L369.8 566.4L367.3 564.8L365.7 561.4L362.3 559.8L359.0 556.4L355.7 554.0L352.4 553.1L349.0 554.0Z" fill="#57989d" stroke="#57989d" stroke-width="0.6" stroke-linejoin="round"/>
<path d="M146.3 639.6L151.6 639.1L155.7 639.9L159.9 639.6L164.0 638.2L168.2 636.6L171.5 634.6L175.7 631.9L179.8 631.2L183.2 631.6L185.7 633.6L189.8 634.6L193.1 636.2L195.6 638.2L196.5 641.5L196.5 645.7L194.8 648.2L197.3 650.7L201.5 652.4L203.1 655.7L201.1 659.8L197.3 663.2L198.1 667.3L199.8 670.7L200.3 671.8L197.3 674.0L193.1 673.5L188.2 673.1L184.0 674.5L183.2 669.8L178.2 667.3L172.9 668.2L171.5 671.5L166.5 670.7L164.9 666.5L159.9 664.0L154.9 661.5L152.9 656.5L153.2 649.0L149.9 645.7L145.8 644.9L146.3 639.6Z" fill="#2f5a72" stroke="#2f5a72" stroke-width="0.6" stroke-linejoin="round"/>
<path d="M331.6 284.9L332.4 280.7L334.9 278.2L338.2 276.6L340.7 274.1L344.9 273.2L348.2 270.7L352.4 269.1L356.2 267.9L356.5 269.9L354.0 272.4L354.9 276.6L355.7 279.9L354.5 284.0L354.0 287.4L356.5 290.7L359.8 294.0L362.3 296.2L360.7 296.5L357.3 299.0L354.0 297.3L350.7 294.0L348.2 293.2L345.7 297.3L343.2 296.5L339.9 292.9L339.1 295.2L336.6 294.0L334.1 290.7L331.6 284.9Z" fill="#316178" stroke="#316178" stroke-width="0.6" stroke-linejoin="round"/>
<path d="M259.3 143.1L257.4 144.2L255.5 147.2L253.9 151.9L252.4 157.1L251.5 162.3L251.1 167.0L251.0 172.2" fill="none" stroke="#356b80" stroke-width="0.7" stroke-linecap="round" stroke-linejoin="round"/>
<path d="M257.4 162.0L261.6 160.9L269.2 159.2" fill="none" stroke="#356b80" stroke-width="0.5" stroke-linecap="round" stroke-linejoin="round"/>
<line x1="162.4" y1="280.7" x2="168.2" y2="278.7" stroke="#3a7f8b" stroke-width="0.9" stroke-linecap="round"/>
<line x1="174.0" y1="274.2" x2="183.2" y2="272.7" stroke="#3a7f8b" stroke-width="0.9" stroke-linecap="round"/>
<line x1="189.8" y1="270.1" x2="203.1" y2="268.4" stroke="#3a7f8b" stroke-width="0.9" stroke-linecap="round"/>
<line x1="206.4" y1="267.4" x2="214.8" y2="265.8" stroke="#3a7f8b" stroke-width="0.9" stroke-linecap="round"/>
<line x1="218.1" y1="264.9" x2="226.4" y2="263.8" stroke="#3a7f8b" stroke-width="0.9" stroke-linecap="round"/>
<line x1="228.1" y1="263.1" x2="233.1" y2="262.8" stroke="#3a7f8b" stroke-width="0.9" stroke-linecap="round"/>
<path d="M291.5 253.1L296.5 253.9L303.2 254.4L306.5 256.4L309.8 260.5L312.3 264.7L314.8 268.9L318.1 272.2L319.1 273.2L320.8 278.2L322.4 281.5L325.8 283.5L329.9 284.5L331.6 284.9M331.6 284.9L332.4 280.7L334.9 278.2L338.2 276.6L340.7 274.1L344.9 273.2L348.2 270.7L352.4 269.1L356.2 267.9L356.5 269.9L354.0 272.4L354.9 276.6L355.7 279.9L354.5 284.0L354.0 287.4L356.5 290.7L359.8 294.0L362.3 296.2M331.6 284.9L334.1 290.7L336.6 294.0L339.1 295.2L339.9 292.9L343.2 296.5L345.7 297.3L348.2 293.2L350.7 294.0L354.0 297.3L357.3 299.0L360.7 296.5L362.3 296.2M362.3 296.2L365.7 297.3L369.8 299.8L374.0 301.8L378.1 302.7M378.1 302.7L379.8 299.0L380.6 295.7L384.0 293.2L388.1 290.7L390.6 287.4L391.4 283.2L395.6 282.9L397.3 279.1L398.9 274.9L398.1 271.6L394.8 270.2L390.6 269.9L388.9 266.6L388.1 262.4L387.3 257.4L388.9 254.9L393.1 252.4L398.1 251.6L396.4 247.6M378.1 302.7L382.3 301.5L385.6 304.0L388.9 306.8L392.3 307.8L395.6 304.8L398.9 304.5L401.4 308.2L403.9 312.3L406.4 316.5L409.7 319.0L412.2 322.3L415.5 324.8M415.5 324.8L421.4 325.1L426.4 323.1L430.5 324.0L431.7 319.8L431.3 316.5L434.7 314.0L439.7 313.1L443.0 314.8L445.5 312.3L449.6 310.7L453.8 308.2L456.3 304.8L458.8 301.8L462.4 303.3L468.2 303.3L470.7 305.8L474.9 307.4L479.1 311.6L481.5 312.4L485.7 311.2L489.9 312.4L493.2 314.6L496.5 317.4L500.7 318.2L504.8 319.1L506.8 318.2L509.5 320.7L513.1 317.4L516.5 314.9L520.6 312.9L522.3 315.7L524.8 311.6L528.9 309.9L532.3 312.9L534.8 309.9L537.3 307.4L538.9 303.3L540.6 299.9L544.7 295.8L548.9 291.6L553.1 290.0L553.9 285.3L558.0 289.1L558.9 292.4L562.2 295.8L568.0 296.6L573.0 295.8L577.2 295.8L578.8 299.9L575.5 304.9L572.2 309.1L571.0 311.2L577.2 311.9L580.5 311.6L583.8 307.4L587.1 305.8M415.5 324.8L418.0 328.1L419.7 330.6L423.0 329.4L426.4 329.8L430.5 332.3L433.3 333.4M433.3 333.4L436.7 334.0L439.1 337.3L443.3 338.5L446.6 342.3L451.6 344.8L457.4 346.2L462.4 347.3L465.8 348.2L469.1 350.2L469.9 353.1L467.1 356.6L468.0 361.6L469.3 366.6L465.5 369.9L465.5 374.9L463.8 378.2L466.3 380.7L469.6 379.1L473.0 383.2L473.0 388.2L472.1 393.2L470.5 398.2L469.6 404.0L472.1 405.7L468.8 408.2L467.6 411.5L469.6 414.8L473.0 418.2L476.3 421.5L479.6 423.1L482.9 424.0L486.3 426.5L489.6 426.8L492.1 425.6L496.2 426.5L500.4 429.0L503.7 430.6L507.1 431.1L510.4 433.1L513.7 435.6L517.0 438.9L519.5 442.3L520.9 446.4L521.2 450.6L518.7 453.9L516.2 456.4L513.4 457.5M433.3 333.4L430.5 334.8L428.0 336.4L427.7 340.6L423.9 343.1L419.7 345.6L417.2 347.2L413.1 345.1L407.2 344.4L403.1 343.4L399.8 345.6L396.4 348.4L389.8 349.4L387.3 353.1L386.8 354.1L388.2 359.1L390.7 363.3L394.0 367.4L396.5 370.8L399.5 369.9L397.8 374.1L399.0 379.1L401.1 380.7L397.3 383.6L398.1 387.4L401.5 390.7L404.5 393.2L399.8 395.2L402.3 399.0L402.8 402.4L405.1 405.7L401.5 408.2L404.0 411.5L401.1 415.7L397.3 416.8L398.1 419.8L393.1 421.1L388.2 421.5L381.5 421.8L376.5 425.6L379.0 429.8L381.5 431.5L378.2 433.1L380.7 436.4L377.3 440.6L378.2 446.4L380.7 450.6L382.3 454.7L383.2 457.7M604.9 465.0L601.2 464.1L597.9 463.3L593.7 465.3L588.8 466.6L583.8 469.1L579.6 467.5L573.8 466.3L571.3 468.3L569.6 472.4L568.0 476.6L566.3 479.9L560.5 480.8L556.3 481.3L553.0 482.4L546.4 481.9L541.4 480.8L538.9 478.3L533.1 475.8L528.9 476.3L525.6 479.1L522.2 479.6L521.4 474.9L522.2 470.0L520.6 465.8L518.9 461.6L516.4 460.0L513.4 457.5M513.4 457.5L511.4 455.8L508.1 457.0L504.8 456.7L501.5 454.7L498.1 457.5L494.0 456.3L491.5 459.1L486.5 460.3L481.5 461.3L476.5 462.5L470.7 465.0L467.4 466.6L465.7 470.8L464.0 474.9L465.2 479.9L466.2 484.9L464.0 486.6L465.7 491.6L466.5 497.4L467.4 501.5L469.0 504.9L469.5 505.7M383.2 457.7L387.3 457.2L391.5 458.4L394.8 460.6L396.5 463.1L395.6 464.2L397.8 468.3L398.9 473.3L399.8 476.6L404.7 477.0L409.7 478.6L414.7 478.3L419.7 479.1L423.0 481.6L425.5 485.8L427.2 489.1L424.7 491.6L421.4 494.9L423.0 496.6L426.4 499.1L427.2 503.6L430.5 504.6L434.7 503.6L438.0 504.9L440.5 507.4L443.8 509.1L448.0 509.1L452.1 510.7L455.5 513.2L457.1 516.5L461.3 516.9L465.4 517.4L467.9 519.0L469.6 515.7L470.4 511.5L471.3 508.2L469.5 505.7M469.5 505.7L473.2 505.7L478.2 506.5L481.5 508.2L484.0 511.5L487.3 514.0L489.8 516.5L491.5 521.5L488.2 522.3L483.2 522.8L480.7 525.7L478.2 528.2L474.0 529.8L469.0 532.3L468.2 536.5L470.7 538.1L471.5 540.6L474.0 542.3L472.4 545.6L468.2 548.1L464.0 548.9L462.4 551.8L459.1 553.1L456.6 550.6L456.2 546.4L453.2 548.1L451.6 551.4L448.6 554.8L450.7 557.3L453.6 558.1L453.2 561.4L450.7 563.1M450.7 563.1L454.1 568.1L458.2 572.2L462.9 575.0M383.2 457.7L380.7 459.7L380.7 463.9L377.3 464.2L374.0 463.3L370.7 462.5L367.3 463.7L365.7 467.5L362.3 469.1L358.2 471.6L355.7 474.1L352.4 475.8L348.2 476.6L344.9 478.3L341.9 480.8M341.9 480.8L342.4 484.9L344.0 488.3L348.2 489.9L349.0 493.3L353.2 495.3L357.3 497.4L358.2 499.9L354.0 501.6L353.2 503.6L356.5 504.9L355.7 508.2L354.0 509.9L357.3 512.4L356.5 514.0L352.4 514.0L347.4 513.5L346.5 516.5L344.0 519.0L347.4 520.7L348.5 523.2L346.5 524.9L345.7 528.2L342.9 530.7L343.2 534.8L340.7 539.0L339.1 543.1L338.6 546.1L343.2 546.5L345.7 543.1L348.2 544.0L349.0 546.5L348.5 550.6L349.0 554.0M349.0 554.0L352.4 553.1L355.7 554.0L359.0 556.4L362.3 559.8L365.7 561.4L367.3 564.8L369.8 566.4L373.1 569.8L376.5 571.4L378.1 574.7L378.1 578.9L379.8 581.4L383.1 582.2L385.6 583.4L387.3 579.7L391.4 579.4L392.3 577.7L388.1 575.6L385.6 573.9L384.8 571.1L388.1 568.9L393.1 567.8L396.4 567.3L398.9 569.8L403.1 569.4L406.4 570.1L408.9 573.1L408.4 575.6L410.6 577.2L413.9 578.4L414.7 574.7L415.5 568.1L414.4 563.1L414.7 559.4L418.9 558.1L420.5 556.4L423.0 556.1L423.9 558.9L424.7 562.3L428.0 563.9L429.7 567.3L431.3 568.4L434.7 566.8L438.8 566.4L443.0 565.1L445.5 567.3L447.1 565.6L449.6 563.9L450.7 563.1M311.5 458.1L317.0 456.4L320.4 458.1L324.5 458.1L327.0 462.2L327.4 462.5L324.1 466.7L323.3 470.0L324.9 474.1L324.1 477.5L321.6 480.0L321.6 483.3L324.9 485.8L329.9 487.9L332.4 486.6L332.9 483.3L329.9 481.6L330.7 479.1L334.9 478.0L338.2 477.5L340.7 476.6L341.9 480.8M185.7 403.5L191.5 401.9L196.5 402.4L200.6 399.1L206.4 394.9L211.4 391.6L212.8 385.8L214.8 383.3L218.1 384.9L220.6 389.9L224.7 391.9L229.7 391.6L233.1 394.1L233.9 398.2L232.2 403.2L230.6 407.4L233.1 410.7L237.2 411.5L236.7 415.7L232.2 416.5L229.4 418.5L231.4 421.8L233.9 422.8L237.2 420.7L243.0 419.8L248.0 416.5L251.3 414.0L256.3 415.7L259.7 413.2L263.0 409.9L261.3 404.9L261.3 398.2L258.8 393.2L254.7 390.7L252.2 388.2L251.7 385.3L256.3 385.8L260.5 384.1L262.2 380.8L266.3 380.3L271.3 378.3L274.3 380.8L275.0 385.8L275.5 389.9L279.6 390.2L284.6 389.9L288.8 387.4L291.3 383.3L293.7 380.8L297.9 382.4L297.6 388.2L296.2 393.2L292.1 395.7L289.6 399.9L292.1 403.2L294.6 405.7L290.4 409.0L292.1 412.4L297.9 414.0L300.4 418.2L301.2 423.2L300.4 426.5L303.7 429.0L307.1 431.5L309.5 436.5L313.7 439.0L315.9 441.5L315.4 446.4L312.0 449.8L312.9 454.8L311.5 458.1M146.3 567.8L149.1 569.8L150.7 571.4L153.2 569.8L156.6 568.1L159.9 567.3L162.4 570.6L165.7 570.1L169.5 569.4L168.2 564.8L166.9 561.1L169.0 559.0L171.5 561.1L174.9 560.6L174.0 555.6L176.5 552.3L180.7 551.5L184.0 549.0L188.2 549.5L192.3 545.7L196.5 546.5L200.6 544.0L200.6 539.0L204.8 538.5L209.8 536.5L214.8 534.0L218.1 532.4L218.4 528.2L221.1 526.5L222.2 520.7L224.4 519.4L227.2 520.2L227.7 523.2L230.6 526.5L233.9 528.2L234.4 533.2L236.7 536.5L238.9 539.8L242.2 540.7M242.2 540.7L243.9 536.5L242.5 533.2L246.4 528.2L251.0 524.5L254.7 526.5L258.0 522.4L261.3 517.4L264.6 513.2L263.8 507.4L267.1 504.9L273.8 504.9L277.1 499.9L276.0 494.9L274.6 490.8L270.5 492.4L267.1 491.6L266.3 489.1L268.8 485.0L273.8 481.6L279.6 480.3L286.3 480.0L284.6 473.9L286.3 470.6L291.3 468.9L295.4 470.6L297.9 474.7L302.1 473.9L306.2 468.9L309.5 464.7L309.5 460.6L311.5 458.1M242.2 540.7L243.0 544.8L244.4 549.8L243.0 554.0L238.0 554.0L234.7 556.5L235.5 560.6L233.9 564.8L237.2 567.3L240.5 569.8L242.7 574.8L241.4 578.1L238.0 578.9L238.0 581.4L233.9 581.4L230.6 584.7L232.2 588.9L231.4 592.2L228.1 590.6L226.4 593.9L223.6 595.5L226.4 599.7L228.9 603.0L234.7 602.2L241.4 598.9L246.4 597.7L251.3 600.5L254.7 604.7L255.0 606.6L255.8 611.6L258.3 616.6L260.8 619.9L262.5 620.7L259.1 624.1L255.8 626.6L255.3 629.9L257.5 634.0L259.1 635.2M146.3 639.6L151.6 639.1L155.7 639.9L159.9 639.6L164.0 638.2L168.2 636.6L171.5 634.6L175.7 631.9L179.8 631.2L183.2 631.6L185.7 633.6L189.8 634.6L193.1 636.2L195.6 638.2L196.5 641.5L196.5 645.7L194.8 648.2L197.3 650.7L201.5 652.4L203.1 655.7L201.1 659.8L197.3 663.2L198.1 667.3L199.8 670.7L200.3 671.8M250.5 686.8L253.0 682.3L254.7 676.5L255.8 669.8L257.5 665.6L260.0 663.1L262.5 660.7L260.3 659.0L262.5 656.5L263.6 653.2L263.3 649.8L260.8 647.3L262.0 644.0L260.8 639.9L259.1 635.2M296.2 638.2L295.7 641.9L291.6 643.5L288.2 643.2L286.9 646.5L283.3 651.8L279.9 651.2L281.6 646.5L282.4 643.2L278.3 642.9L274.9 640.7L274.1 636.5L273.3 632.9L269.1 633.2L268.3 637.4L269.1 640.7L266.6 641.9L263.3 639.0L260.0 635.7L259.1 635.2M349.0 554.0L348.2 557.3L345.7 560.6L342.4 563.9L338.2 565.6L334.1 564.4L332.4 568.1L331.6 573.1L328.2 576.4L324.9 579.7L321.6 581.4L318.3 582.2L318.6 586.4L319.1 591.4L316.6 593.0L312.4 592.2L310.0 588.9L304.1 588.0L300.0 588.9L295.0 590.5L291.6 591.6L289.4 595.8L291.6 598.3L291.2 604.9L292.4 610.8L294.1 614.9L296.6 618.2L298.2 621.6L297.4 624.9L296.6 628.2L294.1 633.2L294.9 635.7L296.2 638.2M296.2 638.2L299.1 637.4L303.2 637.4L305.7 634.9L306.5 631.5L310.7 630.7L314.0 629.9L314.0 627.4L313.2 624.9L309.9 624.1L307.4 622.4L307.4 620.7L311.5 619.9L316.5 619.1L319.0 620.7L322.3 619.9L325.7 618.6L326.5 621.6L325.7 625.7L328.2 627.4L330.7 624.9L334.0 623.6L336.5 626.6L337.3 629.9L338.1 633.2L339.8 635.7L336.5 637.4L335.1 639.0L338.1 639.0L340.6 637.4L341.5 640.7L340.6 644.0L343.1 645.2L346.4 644.9L348.1 642.4L349.8 639.5L351.4 642.4L352.3 646.5L353.4 649.8L354.8 652.3L351.8 654.0L351.4 658.2L353.9 661.5L352.3 664.8L352.3 668.1L354.8 670.6L358.1 672.3L359.8 674.8L357.3 676.4L358.9 678.9L360.6 681.8L364.7 683.9L367.2 687.3L369.7 690.6L371.1 694.7L370.6 699.7L369.7 703.9L368.9 707.2L371.4 709.7L373.1 712.2L370.6 713.9L367.2 711.4L364.7 713.9L361.7 711.4L359.8 710.5L359.4 713.0L361.4 717.2L363.3 721.6L362.1 725.8L358.0 727.4L354.6 730.8L352.1 729.6L348.0 729.9L345.5 733.3L343.8 737.4L346.3 741.6L348.8 746.6L351.0 753.2L353.0 758.2L353.8 763.2L352.1 769.0L350.5 772.3L351.3 776.5L350.5 779.8L352.1 783.2L349.6 786.5L351.3 789.8L353.8 792.3L353.0 795.6L349.6 796.5L346.3 794.0L343.8 795.6L340.5 796.1L337.2 794.8L334.7 797.3L331.3 800.6L327.2 799.8L323.9 801.8" fill="none" stroke="#fff" stroke-opacity="0.75" stroke-width="1.3" stroke-linejoin="round" stroke-linecap="round"/>
<path d="M265.8 318.9L270.1 318.4L274.9 319.1L279.7 320.2L283.4 322.6L286.1 323.6L287.6 321.3L289.7 323.6L288.5 326.3L289.3 331.1L285.8 335.0L281.0 333.2L277.3 331.6L274.9 331.7L273.7 328.7L271.3 324.5L269.5 321.4Z" fill="#1e1c50" stroke="#fff" stroke-opacity="0.75" stroke-width="1.3" stroke-linejoin="round"/>
<path d="M264.6 279.9L271.0 279.6L269.3 283.2L271.0 288.2L268.8 291.2L263.0 292.4L265.5 289.0L266.3 285.7L264.6 281.5Z" fill="#1e1c50" stroke="#fff" stroke-opacity="0.75" stroke-width="1.3" stroke-linejoin="round"/>
<path d="M519.5 373.6L523.2 372.0L528.2 371.3L533.1 370.8L538.1 372.4L541.5 374.6L542.8 376.9L544.0 379.9L545.1 382.9L548.1 384.6L551.8 386.6L549.4 391.6L547.3 394.9L545.6 392.9L542.3 391.2L538.1 389.1L534.8 389.6L533.1 391.6L529.8 389.9L526.5 387.9L522.3 388.6L517.3 389.9L515.7 388.2L518.2 384.1L517.3 380.8L519.5 377.4Z" fill="#3d858f" stroke="#fff" stroke-opacity="0.75" stroke-width="1.3" stroke-linejoin="round"/>
</g>
<rect x="960" y="160" width="202.5" height="14" rx="2" fill="#1e1c50"/>
<text class="lab" x="943.6" y="173" text-anchor="end" textLength="63.5" lengthAdjust="spacingAndGlyphs">Bremen</text>
<text class="val" x="1174.8" y="174">86,7%</text>
<rect x="960" y="202" width="186.9" height="14" rx="2" fill="#2f5a72"/>
<text class="lab" x="943.6" y="215" text-anchor="end" textLength="70.3" lengthAdjust="spacingAndGlyphs">Saarland</text>
<text class="val" x="1159.2" y="216">80,0%</text>
<rect x="960" y="245" width="184.5" height="14" rx="2" fill="#316178"/>
<text class="lab" x="943.6" y="258" text-anchor="end" textLength="76.5" lengthAdjust="spacingAndGlyphs">Hamburg</text>
<text class="val" x="1156.8" y="259">79,0%</text>
<rect x="960" y="288" width="181.5" height="14" rx="2" fill="#346a7f"/>
<text class="lab" x="943.6" y="301" text-anchor="end" textLength="173.2" lengthAdjust="spacingAndGlyphs">Nordrhein-Westfalen</text>
<text class="val" x="1153.8" y="302">77,7%</text>
<rect x="960" y="330" width="181.3" height="14" rx="2" fill="#356b80"/>
<text class="lab" x="943.6" y="343" text-anchor="end" textLength="157.7" lengthAdjust="spacingAndGlyphs">Schleswig-Holstein</text>
<text class="val" x="1153.6" y="344">77,6%</text>
<rect x="960" y="373" width="176.6" height="14" rx="2" fill="#3a7f8b"/>
<text class="lab" x="943.6" y="386" text-anchor="end" textLength="119.0" lengthAdjust="spacingAndGlyphs">Niedersachsen</text>
<text class="val" x="1148.9" y="387">75,6%</text>
<rect x="960" y="416" width="174.7" height="14" rx="2" fill="#3d858f"/>
<text class="lab" x="943.6" y="429" text-anchor="end" textLength="47.5" lengthAdjust="spacingAndGlyphs">Berlin</text>
<text class="val" x="1147.0" y="430">74,8%</text>
<rect x="960" y="458" width="174.7" height="14" rx="2" fill="#3d858f"/>
<text class="lab" x="943.6" y="471" text-anchor="end" textLength="131.2" lengthAdjust="spacingAndGlyphs">Rheinland-Pfalz</text>
<text class="val" x="1147.0" y="472">74,8%</text>
<rect x="960" y="501" width="171.9" height="14" rx="2" fill="#468d94"/>
<text class="lab" x="943.6" y="514" text-anchor="end" textLength="58.4" lengthAdjust="spacingAndGlyphs">Hessen</text>
<text class="val" x="1144.2" y="515">73,6%</text>
<rect x="960" y="544" width="168.0" height="14" rx="2" fill="#54969b"/>
<text class="lab" x="943.6" y="557" text-anchor="end" textLength="223.0" lengthAdjust="spacingAndGlyphs">Mecklenburg-Vorpommern</text>
<text class="val" x="1140.3" y="558">71,9%</text>
<rect x="960" y="586" width="167.3" height="14" rx="2" fill="#57989d"/>
<text class="lab" x="943.6" y="599" text-anchor="end" textLength="55.7" lengthAdjust="spacingAndGlyphs">Bayern</text>
<text class="val" x="1139.6" y="600">71,6%</text>
<rect x="960" y="629" width="166.8" height="14" rx="2" fill="#59999e"/>
<text class="lab" x="943.6" y="642" text-anchor="end" textLength="169.9" lengthAdjust="spacingAndGlyphs">Baden-Württemberg</text>
<text class="val" x="1139.1" y="643">71,4%</text>
<rect x="960" y="672" width="162.4" height="14" rx="2" fill="#6aa3a3"/>
<text class="lab" x="943.6" y="685" text-anchor="end" textLength="128.6" lengthAdjust="spacingAndGlyphs">Sachsen-Anhalt</text>
<text class="val" x="1134.7" y="686">69,5%</text>
<rect x="960" y="714" width="158.1" height="14" rx="2" fill="#7aada8"/>
<text class="lab" x="943.6" y="727" text-anchor="end" textLength="83.9" lengthAdjust="spacingAndGlyphs">Thüringen</text>
<text class="val" x="1130.4" y="728">67,7%</text>
<rect x="960" y="757" width="157.0" height="14" rx="2" fill="#7fb0aa"/>
<text class="lab" x="943.6" y="770" text-anchor="end" textLength="106.4" lengthAdjust="spacingAndGlyphs">Brandenburg</text>
<text class="val" x="1129.3" y="771">67,2%</text>
<rect x="960" y="799" width="147.2" height="14" rx="2" fill="#a0c9b7"/>
<text class="lab" x="943.6" y="812" text-anchor="end" textLength="66.5" lengthAdjust="spacingAndGlyphs">Sachsen</text>
<text class="val" x="1119.5" y="813">63,0%</text>
</svg>
<div class="ml" style="left:301.7px;top:220.0px;text-shadow:1.3px 0px 0 #356b80,-1.3px 0px 0 #356b80,0px 1.3px 0 #356b80,0px -1.3px 0 #356b80,0.95px 0.95px 0 #356b80,-0.95px 0.95px 0 #356b80,0.95px -0.95px 0 #356b80,-0.95px -0.95px 0 #356b80">77,6%</div>
<div class="ml" style="left:440.8px;top:257.0px;text-shadow:1.3px 0px 0 #54969b,-1.3px 0px 0 #54969b,0px 1.3px 0 #54969b,0px -1.3px 0 #54969b,0.95px 0.95px 0 #54969b,-0.95px 0.95px 0 #54969b,0.95px -0.95px 0 #54969b,-0.95px -0.95px 0 #54969b">71,9%</div>
<div class="ml" style="left:267.6px;top:345.0px;text-shadow:1.3px 0px 0 #3a7f8b,-1.3px 0px 0 #3a7f8b,0px 1.3px 0 #3a7f8b,0px -1.3px 0 #3a7f8b,0.95px 0.95px 0 #3a7f8b,-0.95px 0.95px 0 #3a7f8b,0.95px -0.95px 0 #3a7f8b,-0.95px -0.95px 0 #3a7f8b">75,6%</div>
<div class="ml" style="left:508.0px;top:399.0px;text-shadow:1.3px 0px 0 #7fb0aa,-1.3px 0px 0 #7fb0aa,0px 1.3px 0 #7fb0aa,0px -1.3px 0 #7fb0aa,0.95px 0.95px 0 #7fb0aa,-0.95px 0.95px 0 #7fb0aa,0.95px -0.95px 0 #7fb0aa,-0.95px -0.95px 0 #7fb0aa">67,2%</div>
<div class="ml" style="left:401.3px;top:428.0px;text-shadow:1.3px 0px 0 #6aa3a3,-1.3px 0px 0 #6aa3a3,0px 1.3px 0 #6aa3a3,0px -1.3px 0 #6aa3a3,0.95px 0.95px 0 #6aa3a3,-0.95px 0.95px 0 #6aa3a3,0.95px -0.95px 0 #6aa3a3,-0.95px -0.95px 0 #6aa3a3">69,5%</div>
<div class="ml" style="left:174.2px;top:447.0px;text-shadow:1.3px 0px 0 #346a7f,-1.3px 0px 0 #346a7f,0px 1.3px 0 #346a7f,0px -1.3px 0 #346a7f,0.95px 0.95px 0 #346a7f,-0.95px 0.95px 0 #346a7f,0.95px -0.95px 0 #346a7f,-0.95px -0.95px 0 #346a7f">77,7%</div>
<div class="ml" style="left:498.3px;top:486.0px;text-shadow:1.3px 0px 0 #a0c9b7,-1.3px 0px 0 #a0c9b7,0px 1.3px 0 #a0c9b7,0px -1.3px 0 #a0c9b7,0.95px 0.95px 0 #a0c9b7,-0.95px 0.95px 0 #a0c9b7,0.95px -0.95px 0 #a0c9b7,-0.95px -0.95px 0 #a0c9b7">63,0%</div>
<div class="ml" style="left:366.7px;top:515.0px;text-shadow:1.3px 0px 0 #7aada8,-1.3px 0px 0 #7aada8,0px 1.3px 0 #7aada8,0px -1.3px 0 #7aada8,0.95px 0.95px 0 #7aada8,-0.95px 0.95px 0 #7aada8,0.95px -0.95px 0 #7aada8,-0.95px -0.95px 0 #7aada8">67,7%</div>
<div class="ml" style="left:251.1px;top:539.0px;text-shadow:1.3px 0px 0 #468d94,-1.3px 0px 0 #468d94,0px 1.3px 0 #468d94,0px -1.3px 0 #468d94,0.95px 0.95px 0 #468d94,-0.95px 0.95px 0 #468d94,0.95px -0.95px 0 #468d94,-0.95px -0.95px 0 #468d94">73,6%</div>
<div class="ml" style="left:163.4px;top:604.0px;text-shadow:1.3px 0px 0 #3d858f,-1.3px 0px 0 #3d858f,0px 1.3px 0 #3d858f,0px -1.3px 0 #3d858f,0.95px 0.95px 0 #3d858f,-0.95px 0.95px 0 #3d858f,0.95px -0.95px 0 #3d858f,-0.95px -0.95px 0 #3d858f">74,8%</div>
<div class="ml" style="left:413.5px;top:690.0px;text-shadow:1.3px 0px 0 #57989d,-1.3px 0px 0 #57989d,0px 1.3px 0 #57989d,0px -1.3px 0 #57989d,0.95px 0.95px 0 #57989d,-0.95px 0.95px 0 #57989d,0.95px -0.95px 0 #57989d,-0.95px -0.95px 0 #57989d">71,6%</div>
<div class="ml" style="left:243.8px;top:729.0px;text-shadow:1.3px 0px 0 #59999e,-1.3px 0px 0 #59999e,0px 1.3px 0 #59999e,0px -1.3px 0 #59999e,0.95px 0.95px 0 #59999e,-0.95px 0.95px 0 #59999e,0.95px -0.95px 0 #59999e,-0.95px -0.95px 0 #59999e">71,4%</div>
<div class="ml" style="left:305.6px;top:265.0px;text-shadow:1.3px 0px 0 #316178,-1.3px 0px 0 #316178,0px 1.3px 0 #316178,0px -1.3px 0 #316178,0.95px 0.95px 0 #316178,-0.95px 0.95px 0 #316178,0.95px -0.95px 0 #316178,-0.95px -0.95px 0 #316178">79,0%</div>
<div class="ml" style="left:234.3px;top:298.0px;text-shadow:1.3px 0px 0 #1e1c50,-1.3px 0px 0 #1e1c50,0px 1.3px 0 #1e1c50,0px -1.3px 0 #1e1c50,0.95px 0.95px 0 #1e1c50,-0.95px 0.95px 0 #1e1c50,0.95px -0.95px 0 #1e1c50,-0.95px -0.95px 0 #1e1c50">86,7%</div>
<div class="ml" style="left:492.6px;top:354.0px;text-shadow:1.3px 0px 0 #3d858f,-1.3px 0px 0 #3d858f,0px 1.3px 0 #3d858f,0px -1.3px 0 #3d858f,0.95px 0.95px 0 #3d858f,-0.95px 0.95px 0 #3d858f,0.95px -0.95px 0 #3d858f,-0.95px -0.95px 0 #3d858f">74,8%</div>
<div class="ml" style="left:138.5px;top:645.0px;text-shadow:1.3px 0px 0 #2f5a72,-1.3px 0px 0 #2f5a72,0px 1.3px 0 #2f5a72,0px -1.3px 0 #2f5a72,0.95px 0.95px 0 #2f5a72,-0.95px 0.95px 0 #2f5a72,0.95px -0.95px 0 #2f5a72,-0.95px -0.95px 0 #2f5a72">80,0%</div>
</body>
</html>
